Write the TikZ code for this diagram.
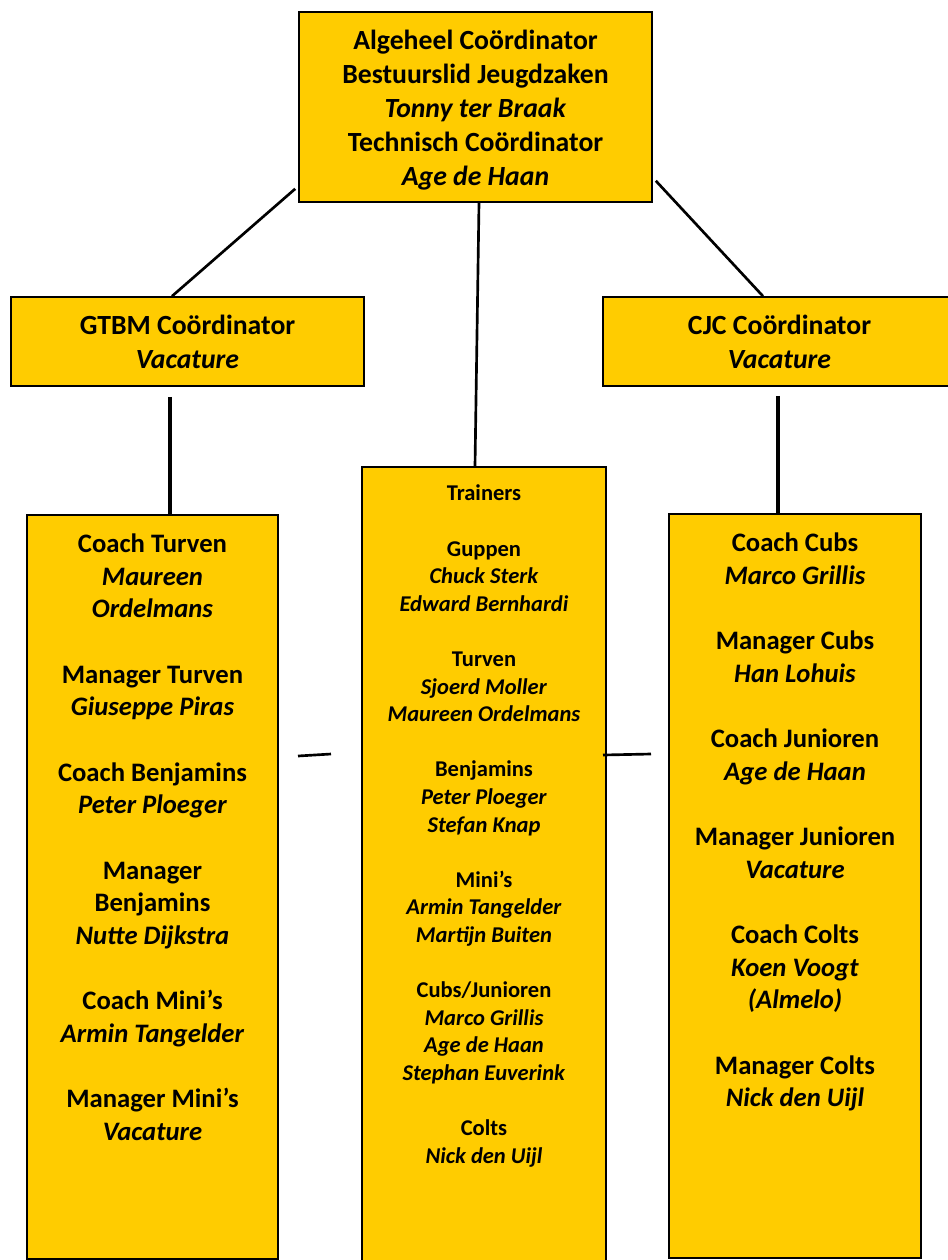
\documentclass[tikz,border=0pt]{standalone}
\usepackage{fontspec}
\setmainfont{Carlito}
\usetikzlibrary{positioning}
\definecolor{club_yellow}{RGB}{255,204,0}
\tikzset{
	orgbox/.style={draw,line width=1.2pt,fill=club_yellow,inner sep=0pt},
	headtext/.style={align=center,font=\bfseries\fontsize{20.8}{25.5}\selectfont},
	bigtext/.style={align=center,inner sep=0pt,font=\bfseries\fontsize{20}{24.5}\selectfont},
	smalltext/.style={align=center,inner sep=0pt,font=\bfseries\fontsize{16.9}{20.7}\selectfont},
	link/.style={line width=2pt},
	drop/.style={line width=3pt}
}

\begin{document}
\begin{tikzpicture}[x=0.75pt,y=-0.75pt]
		\useasboundingbox (0,0) rectangle (948,1260);
		\node[orgbox,headtext,minimum width=264.75pt,minimum height=142.5pt] (top) at (475.5,107) {};
		\node[headtext,inner sep=0pt] (toptext) at (475.5,110)
			{Algeheel Coördinator\\Bestuurslid Jeugdzaken\\\textit{Tonny ter Braak}\\Technisch Coördinator\\\textit{Age de Haan}};
		\node[orgbox,headtext,minimum width=264.75pt,minimum height=66.75pt] (gtbm) at (187.5,341.5)
			{GTBM Coördinator\\\textit{Vacature}};
		\node[orgbox,headtext,minimum width=264.75pt,minimum height=66.75pt] (cjc) at (779.5,341.5)
			{CJC Coördinator\\\textit{Vacature}};
		\node[orgbox,minimum width=188.25pt,minimum height=558pt] (lcol) at (152.5,887) {};
		\node[orgbox,minimum width=183pt,minimum height=597.75pt] (mcol) at (484,865.5) {};
		\node[orgbox,minimum width=189pt,minimum height=558pt] (rcol) at (795,886) {};
		\node[bigtext,below=14.5pt of lcol.north] (ltext)
			{Coach Turven\\\textit{Maureen}\\\textit{Ordelmans}\\[24.5pt]
			Manager Turven\\\textit{Giuseppe Piras}\\[24.5pt]
			Coach Benjamins\\\textit{Peter Ploeger}\\[24.5pt]
			Manager\\Benjamins\\\textit{Nutte Dijkstra}\\[24.5pt]
			Coach Mini’s\\\textit{Armin Tangelder}\\[24.5pt]
			Manager Mini’s\\\textit{Vacature}};
		\node[smalltext,below=14pt of mcol.north] (mtext)
			{Trainers\\[20.7pt]
			Guppen\\\textit{Chuck Sterk}\\\textit{Edward Bernhardi}\\[20.7pt]
			Turven\\\textit{Sjoerd Moller}\\\textit{Maureen Ordelmans}\\[20.7pt]
			Benjamins\\\textit{Peter Ploeger}\\\textit{Stefan Knap}\\[20.7pt]
			Mini’s\\\textit{Armin Tangelder}\\\textit{Martijn Buiten}\\[20.7pt]
			Cubs/Junioren\\\textit{Marco Grillis}\\\textit{Age de Haan}\\\textit{Stephan Euverink}\\[20.7pt]
			Colts\\\textit{Nick den Uijl}};
		\node[bigtext,below=14.5pt of rcol.north] (rtext)
			{Coach Cubs\\\textit{Marco Grillis}\\[24.5pt]
			Manager Cubs\\\textit{Han Lohuis}\\[24.5pt]
			Coach Junioren\\\textit{Age de Haan}\\[24.5pt]
			Manager Junioren\\\textit{Vacature}\\[24.5pt]
			Coach Colts\\\textit{Koen Voogt}\\\textit{(Almelo)}\\[24.5pt]
			Manager Colts\\\textit{Nick den Uijl}};
		\draw[link] ([shift={(-3,-14)}]top.south west) -- ([shift={(-15.5,0)}]gtbm.north);
		\draw[link] ([shift={(3,-22)}]top.south east) -- ([shift={(-16.5,0)}]cjc.north);
		\draw[link] ([shift={(3.5,0)}]top.south) -- ([shift={(-9,0)}]mcol.north);
		\draw[drop] ([shift={(-17.5,10)}]gtbm.south) -- ([shift={(17.5,1)}]lcol.north);
		\draw[drop] ([shift={(-1.5,9)}]cjc.south) -- ([shift={(-17,0)}]rcol.north);
		\coordinate (ldash) at (298,756);
		\coordinate (mdash) at (603,755);
		\coordinate (rdash) at (651,754);
		\draw[link] (ldash) -- ++(33,-2);
		\draw[link] (mdash) -- (rdash);
	\end{tikzpicture}
\end{document}
